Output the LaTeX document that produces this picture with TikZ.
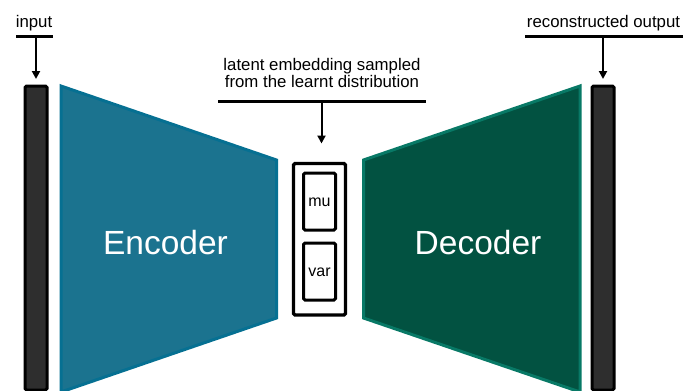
\documentclass[tikz,border=0pt]{standalone}
\usepackage{fontspec}
\setmainfont{Liberation Sans}
\usetikzlibrary{arrows.meta}

\definecolor{encfill}{RGB}{27,115,143}
\definecolor{encline}{RGB}{6,112,146}
\definecolor{decfill}{RGB}{2,82,65}
\definecolor{decline}{RGB}{8,121,102}
\definecolor{barfill}{RGB}{46,46,46}

\tikzset{
  lbl/.style={inner sep=0pt, anchor=base, font=\fontsize{16.8}{18}\selectfont},
  bigtxt/.style={inner sep=0pt, anchor=base, text=white, font=\fontsize{33.5}{36}\selectfont},
  smalltxt/.style={inner sep=0pt, anchor=base, font=\fontsize{16}{17}\selectfont},
  databar/.style={draw=black, line width=3pt, fill=barfill, rounded corners=1.5pt},
  latentbox/.style={draw=black, line width=3.2pt, fill=white, rounded corners=1.5pt},
  rule/.style={line width=2.6pt},
  pointer/.style={line width=2pt, -{Triangle[length=8pt,width=8pt]}},
}

\begin{document}
\begin{tikzpicture}[x=1pt, y=-1pt]
\useasboundingbox (0,0) rectangle (683,391);

% input and output data bars
\draw[databar] (25,86) rectangle (47,390);
\coordinate (inbar) at (36,86);
\draw[databar] (592,86) rectangle (614,390);
\coordinate (outbar) at (603,86);

% encoder and decoder trapezoids
\draw[encline, fill=encfill, line width=3pt, line join=miter]
  (61,86) -- (276.5,160) -- (276.5,318) -- (61,392) -- cycle;
\draw[decline, fill=decfill, line width=3pt, line join=miter]
  (363.5,160) -- (580,86) -- (580,392) -- (363.5,318) -- cycle;
\node[bigtxt] (enc) at (165.5,254) {Encoder};
\node[bigtxt] (dec) at (478,254) {Decoder};

% latent embedding with mu and var
\draw[latentbox] (293.5,163.5) rectangle (345.5,315);
\coordinate (latent) at (321.5,163.5);
\draw[latentbox, line width=3pt] (303.5,173) rectangle (335.5,230);
\draw[latentbox, line width=3pt] (303.5,243) rectangle (335.5,300);
\node[smalltxt] (mu) at (319.5,206) {mu};
\node[smalltxt] (var) at (319.5,276) {var};

% labels with their pointers
\node[lbl] (inlbl) at (34,27) {input};
\coordinate (inA) at (16,36.5);
\coordinate (inB) at (53,36.5);
\coordinate (inM) at (36,36.5);
\draw[rule] (inA) -- (inB);
\draw[pointer] (inM) -- ([yshift=7pt]inbar);

\node[lbl] (lat1) at (322,70) {latent embedding sampled};
\node[lbl] (lat2) at (322,87) {from the learnt distribution};
\coordinate (latA) at (218,101.5);
\coordinate (latB) at (426,101.5);
\coordinate (latM) at (321.5,101.5);
\draw[rule] (latA) -- (latB);
\draw[pointer] (latM) -- ([yshift=20pt]latent);

\node[lbl] (outlbl) at (603.5,27) {reconstructed output};
\coordinate (outA) at (525,36.5);
\coordinate (outB) at (683,36.5);
\coordinate (outM) at (603,36.5);
\draw[rule] (outA) -- (outB);
\draw[pointer] (outM) -- ([yshift=7pt]outbar);
\end{tikzpicture}
\end{document}
